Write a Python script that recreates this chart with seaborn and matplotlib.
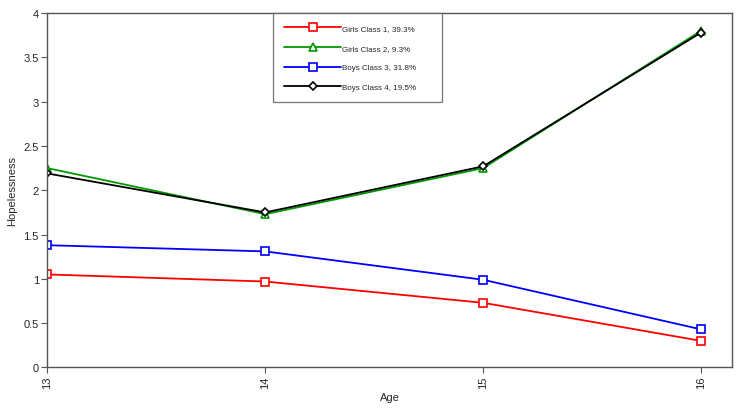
import pandas as pd
import matplotlib.pyplot as plt
import seaborn as sns

ages = [13, 14, 15, 16]
girls_class1 = [1.05, 0.97, 0.73, 0.30]
girls_class2 = [2.25, 1.73, 2.25, 3.80]
boys_class3 = [1.38, 1.31, 0.99, 0.43]
boys_class4 = [2.19, 1.75, 2.27, 3.78]

labels = ["Girls Class 1, 39.3%", "Girls Class 2, 9.3%",
          "Boys Class 3, 31.8%", "Boys Class 4, 19.5%"]
series = [girls_class1, girls_class2, boys_class3, boys_class4]

rows = []
for lab, vals in zip(labels, series):
    for a, v in zip(ages, vals):
        rows.append({"Age": a, "Hopelessness": v, "Class": lab})
df = pd.DataFrame(rows)

sns.set_style("white")
plt.rcParams['font.family'] = ['Liberation Sans', 'DejaVu Sans']

colors = ["#ff0000", "#009900", "#0000ff", "#000000"]
markers = ["s", "^", "s", "D"]
msizes = [6, 6, 6, 4.5]

fig, ax = plt.subplots(figsize=(7.39, 4.14), dpi=100)
for lab, c, m, ms in zip(labels, colors, markers, msizes):
    sns.lineplot(data=df[df["Class"] == lab], x="Age", y="Hopelessness",
                 color=c, marker=m, markersize=ms, markerfacecolor="white",
                 markeredgecolor=c, markeredgewidth=1.2, linewidth=1.3,
                 label=lab, ax=ax)

ax.set_xlim(13, 16.14)
ax.set_ylim(0, 4)
ax.set_xticks(ages)
ax.set_xticklabels([str(a) for a in ages], rotation=90, fontsize=8)
ax.set_yticks([0, 0.5, 1, 1.5, 2, 2.5, 3, 3.5, 4])
ax.set_yticklabels(["0", "0.5", "1", "1.5", "2", "2.5", "3", "3.5", "4"], fontsize=8)
ax.tick_params(axis="both", length=4, width=0.8, direction="out", color="#555555",
               bottom=True, left=True, pad=2)
ax.set_xlabel("Age", fontsize=8, labelpad=3)
ax.set_ylabel("Hopelessness", fontsize=8, labelpad=5)
for sp in ax.spines.values():
    sp.set_color("#555555")
    sp.set_linewidth(1.0)

leg = ax.legend(loc="upper left", bbox_to_anchor=(0.33, 1.0, 0.247, 0.0),
                mode="expand", fontsize=5.8, handlelength=7, frameon=True,
                fancybox=False, edgecolor="#555555", borderpad=1.4,
                labelspacing=1.5, handletextpad=0.2, borderaxespad=0)
leg.get_frame().set_linewidth(0.9)

plt.subplots_adjust(left=0.064, right=0.99, top=0.966, bottom=0.11)
plt.savefig("out.png", dpi=100)
